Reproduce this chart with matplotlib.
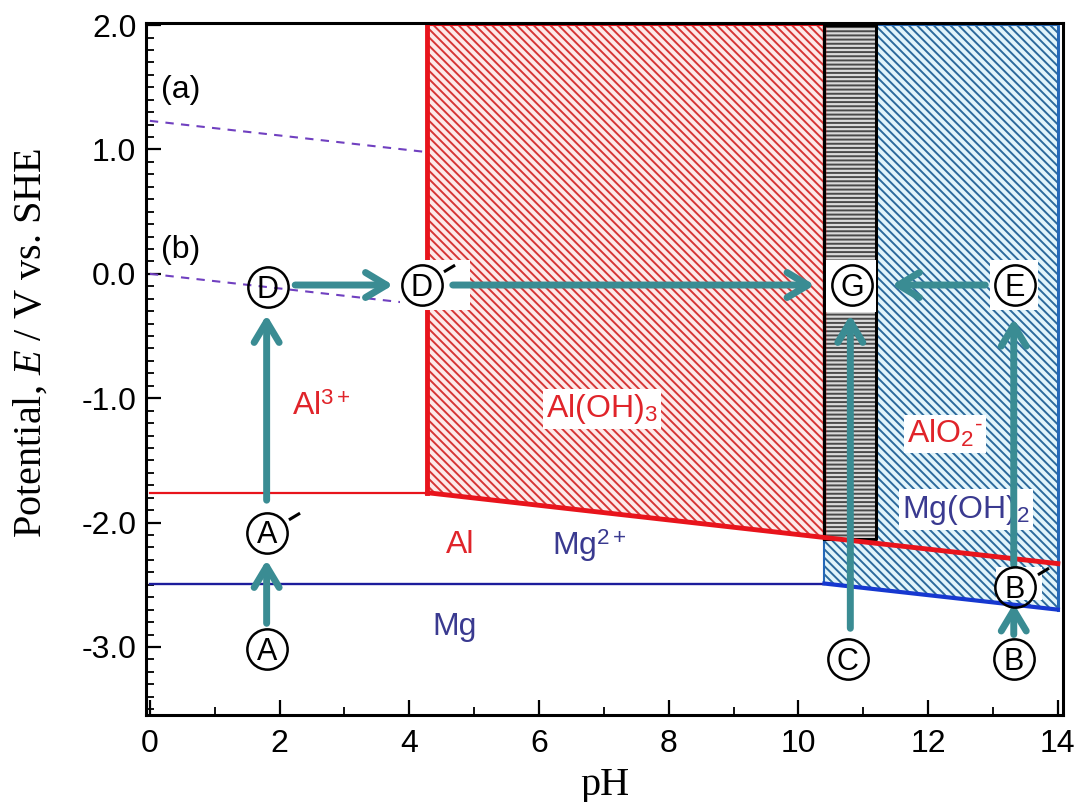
import matplotlib.pyplot as plt
from matplotlib.ticker import MultipleLocator, FormatStrFormatter
from matplotlib.transforms import offset_copy
from matplotlib.patches import Rectangle

plt.rcParams['font.family'] = ['Liberation Sans', 'DejaVu Sans']
plt.rcParams['mathtext.fontset'] = 'custom'
plt.rcParams['mathtext.rm'] = 'Liberation Sans'
plt.rcParams['mathtext.it'] = 'Liberation Serif:italic'
plt.rcParams['mathtext.bf'] = 'Liberation Sans:bold'
plt.rcParams['axes.unicode_minus'] = False
plt.rcParams['hatch.linewidth'] = 1.4

# water stability lines: (a) O2/H2O, (b) H+/H2
water_ph = [0.0, 4.25]
water_a = [1.23, 0.98]
water_b = [0.0, -0.25]

# Al and Mg equilibrium boundaries
al_ph = [0.0, 4.28, 10.4, 14.0]
al_e = [-1.76, -1.76, -2.12, -2.33]
mg_ph = [0.0, 10.4, 14.0]
mg_e = [-2.49, -2.49, -2.70]

e_top = 2.0
# region where Al(OH)3 and Mg(OH)2 coexist
mix_ph = [10.4, 11.2]
mix_e = [-2.13, 2.0]

# species labels (x, baseline y)
species = ['Al$^{3+}$', 'Al(OH)$_3$', 'AlO$_2$$^{\\text{-}}$', 'Mg(OH)$_2$', 'Al', 'Mg$^{2+}$', 'Mg']
species_x = [2.19, 6.97, 12.26, 12.58, 4.78, 6.2, 4.69]
species_y = [-1.135, -1.15, -1.36, -1.96, -2.245, -2.26, -2.90]
species_ha = ['left', 'center', 'center', 'center', 'center', 'left', 'center']
species_col = ['#e0242a', '#e0242a', '#e0242a', '#3a3a90', '#e0242a', '#3a3a90', '#3a3a90']
species_box = [False, True, True, True, False, False, False]

# circled state points
pts = ['A', 'A', 'D', 'D', 'G', 'E', 'C', 'B', 'B']
pts_x = [1.80, 1.80, 1.82, 4.19, 10.83, 13.34, 10.76, 13.32, 13.34]
pts_y = [-3.02, -2.08, -0.105, -0.09, -0.09, -0.09, -3.10, -3.10, -2.52]
pts_prime = [False, True, False, True, False, False, False, False, True]

# white patches behind some of the points: x0, x1, y0, y1
backs = [(3.86, 4.94, -0.29, 0.11), (10.42, 11.2, -0.31, 0.11),
         (12.95, 13.69, -0.29, 0.11), (13.05, 13.75, -2.62, -2.36)]

# transitions between states: (x0, y0) -> (x1, y1)
paths = [(1.80, -2.81, 1.80, -2.30),
         (1.80, -1.82, 1.80, -0.33),
         (2.24, -0.09, 3.75, -0.09),
         (4.67, -0.09, 10.25, -0.09),
         (12.88, -0.09, 11.44, -0.09),
         (10.80, -2.85, 10.80, -0.33),
         (13.32, -2.90, 13.32, -2.65),
         (13.32, -2.34, 13.32, -0.36)]

red = '#e8141c'
teal = '#3a8c93'

fig = plt.figure(figsize=(10.8, 8.02), dpi=100)
ax = fig.add_axes([0.1352, 0.1085, 0.8491, 0.8624])

# hatched stability regions
ax.fill_between(mg_ph[1:], mg_e[1:], e_top, facecolor='#e2f5fb', edgecolor='#2c6a9c',
                hatch='\\\\\\\\', lw=0, zorder=1)
ax.fill_between(al_ph[1:3], al_e[1:3], e_top, facecolor='#fdeaea', edgecolor='#d63636',
                hatch='\\\\\\\\', lw=0, zorder=1)
ax.fill_between(mix_ph, mix_e[0], mix_e[1], facecolor='#dadada', edgecolor='#4a4a4a',
                hatch='----', lw=0, zorder=1)

# region outlines
ax.plot([mg_ph[2], mg_ph[2]], [mg_e[2], e_top], color='#2468b8', lw=2.2, zorder=2)
ax.plot([mix_ph[1], mg_ph[2]], [e_top, e_top], color='#2468b8', lw=1.5, zorder=2)
ax.plot([mg_ph[1], mg_ph[1]], [mg_e[1], al_e[2]], color='#2468b8', lw=1.5, zorder=2)
ax.plot([al_ph[1], al_ph[1]], [al_e[1], e_top], color=red, lw=3.5, zorder=2)
ax.plot([al_ph[1], al_ph[2]], [e_top, e_top], color=red, lw=1.5, zorder=2)
ax.plot([al_ph[2], al_ph[2]], [al_e[2], e_top], color=red, lw=2.5, zorder=2)
ax.plot([mix_ph[0], mix_ph[1], mix_ph[1], mix_ph[0], mix_ph[0]],
        [mix_e[0], mix_e[0], mix_e[1], mix_e[1], mix_e[0]], color='black', lw=2.2, zorder=2)

# equilibrium lines
ax.plot(al_ph[:2], al_e[:2], color=red, lw=1.6, zorder=2)
ax.plot(al_ph[1:], al_e[1:], color=red, lw=3.5, zorder=2)
ax.plot(mg_ph[:2], mg_e[:2], color='#1c1c9c', lw=1.7, zorder=2)
ax.plot(mg_ph[1:], mg_e[1:], color='#1638d0', lw=3, zorder=2)

# water lines
ax.plot(water_ph, water_a, color='#7040c0', lw=1.5, ls=(0, (4, 3.5)), zorder=2)
ax.plot(water_ph, water_b, color='#7040c0', lw=1.5, ls=(0, (4, 3.5)), zorder=2)
ax.text(0.17, 1.48, '(a)', fontsize=23, va='center', ha='left', zorder=4)
ax.text(0.17, 0.19, '(b)', fontsize=23, va='center', ha='left', zorder=4)

for x0, x1, y0, y1 in backs:
    ax.add_patch(Rectangle((x0, y0), x1 - x0, y1 - y0, facecolor='white', edgecolor='none', zorder=3))

for s, x, y, ha, c, boxed in zip(species, species_x, species_y, species_ha, species_col, species_box):
    bb = dict(boxstyle='square,pad=0.1', fc='white', ec='none') if boxed else None
    ax.text(x, y, s, fontsize=23, color=c, ha=ha, va='baseline', bbox=bb, zorder=4)

for x0, y0, x1, y1 in paths:
    ax.annotate('', xy=(x1, y1), xytext=(x0, y0),
                arrowprops=dict(arrowstyle='->,head_length=0.75,head_width=0.45', lw=5,
                                color=teal, shrinkA=0, shrinkB=0, mutation_scale=20),
                zorder=5)

prime_tr = offset_copy(ax.transData, fig=fig, x=20, y=12, units='points')
for s, x, y, pr in zip(pts, pts_x, pts_y, pts_prime):
    ax.plot(x, y, 'o', ms=29, mfc='none', mec='black', mew=1.8, zorder=6)
    ax.annotate(s, (x, y), xytext=(0, -7.9), textcoords='offset points', fontsize=22,
                ha='center', va='baseline', zorder=7)
    if pr:
        ax.plot(x, y, marker=[(-1, -0.6), (1, 0.6)], ms=8, mec='black', mew=2.2,
                transform=prime_tr, zorder=7)

ax.set_xlim(-0.06, 14.08)
ax.set_ylim(-3.547, 2.014)
ax.xaxis.set_major_locator(MultipleLocator(2))
ax.xaxis.set_minor_locator(MultipleLocator(1))
ax.yaxis.set_major_locator(MultipleLocator(1))
ax.yaxis.set_minor_locator(MultipleLocator(0.1))
ax.yaxis.set_major_formatter(FormatStrFormatter('%.1f'))
ax.tick_params(which='both', direction='in', labelsize=23, top=False, right=False)
ax.tick_params(which='major', length=11, width=1.6)
ax.tick_params(which='minor', length=6, width=1.3)
ax.tick_params(axis='x', pad=10)
ax.tick_params(axis='y', pad=7)
for sp in ax.spines.values():
    sp.set_linewidth(2.2)
    sp.set_zorder(8)

ax.set_xlabel('pH', fontsize=29, family='Liberation Serif')
ax.set_ylabel('Potential, $E$ / V vs. SHE', fontsize=29, family='Liberation Serif')
ax.xaxis.set_label_coords(0.5, -0.075)
ax.xaxis.label.set_va('top')
ax.yaxis.set_label_coords(-0.105, 0.538)

plt.savefig('out.png', dpi=100)
